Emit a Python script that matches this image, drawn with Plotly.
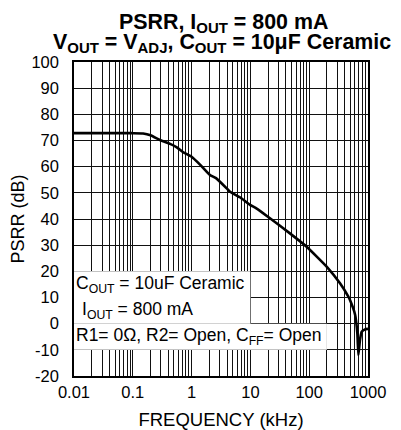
import plotly.graph_objects as go

freq_khz = [0.01, 0.05, 0.1, 0.15, 0.2, 0.29, 0.43, 0.56, 0.72, 1.0, 1.39, 2.05, 2.6, 3.95, 4.5, 6.65, 9.85,
            12.8, 21.5, 47, 90.5, 198, 334, 463, 494, 602, 659, 686, 731, 781, 889, 1000]
psrr_db = [72.8, 72.8, 72.8, 72.7, 72.0, 70.2, 68.7, 67.4, 65.5, 63.8, 60.8, 56.8, 55.6, 51.7, 50.4, 48.3, 45.4,
           44.0, 40.3, 34.5, 29.4, 21.8, 15.4, 10.3, 9.0, 3.5, -3.7, -12.0, -6.2, -3.1, -2.2, -2.0]

xtick_vals = [0.01, 0.1, 1, 10, 100, 1000]
xtick_text = ["0.01", "0.1", "1", "10", "100", "1000"]
ytick_vals = list(range(-20, 101, 10))
ytick_text = [str(v) for v in ytick_vals]

minor_vals = [d * 10.0 ** e for e in range(-2, 3) for d in range(2, 10)]

title_line1 = "<b>PSRR, I<sub>OUT</sub> = 800 mA</b>"
title_line2 = "<b>V<sub>OUT</sub> = V<sub>ADJ</sub>, C<sub>OUT</sub> = 10μF Ceramic</b>"
box_lines = ["C<sub>OUT</sub> = 10uF Ceramic", "I<sub>OUT</sub> = 800 mA",
             "R1= 0Ω, R2= Open, C<sub>FF</sub>= Open"]

font = "Liberation Sans, Arial, sans-serif"

fig = go.Figure()
fig.add_trace(go.Scatter(x=freq_khz, y=psrr_db, mode="lines",
                         line=dict(color="black", width=2.6, shape="spline", smoothing=0.4),
                         hoverinfo="skip", showlegend=False))

# white label boxes over the grid
fig.add_shape(type="rect", xref="x", yref="y", x0=0.01, x1=10, y0=0, y1=20,
              fillcolor="white", line=dict(width=0), layer="between")
fig.add_shape(type="rect", xref="x", yref="y", x0=0.01, x1=200, y0=-10, y1=0,
              fillcolor="white", line=dict(width=0), layer="between")

ann_font = dict(family=font, size=17.5, color="black")
for txt, yv, xs in zip(box_lines, [15, 5, -5], [0, 6, 0]):
    fig.add_annotation(x=0, xref="paper", y=yv, yref="y", xanchor="left", yanchor="middle",
                       text=txt, showarrow=False, font=ann_font, xshift=xs)

title_font = dict(family=font, size=21.4, color="black")
fig.add_annotation(x=0.508, xref="paper", y=1.125, yref="paper", xanchor="center", yanchor="middle",
                   text=title_line1, showarrow=False, font=title_font)
fig.add_annotation(x=0.502, xref="paper", y=1.062, yref="paper", xanchor="center", yanchor="middle",
                   text=title_line2, showarrow=False, font=title_font)

grid_col = "#111111"
# the page body adds an 8px offset, so the figure is sized/margined to compensate
fig.update_layout(
    width=393, height=422,
    margin=dict(l=66, r=33, t=54, b=54),
    paper_bgcolor="white", plot_bgcolor="white",
    font=dict(family=font, size=16, color="black"),
    xaxis=dict(type="log", range=[-2, 3], tickmode="array", tickvals=xtick_vals, ticktext=xtick_text,
               showgrid=True, gridcolor=grid_col, gridwidth=1.3, automargin=False,
               minor=dict(tickmode="array", tickvals=minor_vals, showgrid=True, gridcolor=grid_col, gridwidth=1.2),
               showline=True, linecolor="black", linewidth=1.5, mirror=True, ticks="",
               title=dict(text="FREQUENCY (kHz)", font=dict(size=18.5), standoff=16),
               tickfont=dict(size=16.5), zeroline=False),
    yaxis=dict(range=[-20, 100], tickmode="array", tickvals=ytick_vals, ticktext=ytick_text,
               showgrid=True, gridcolor=grid_col, gridwidth=1.3, automargin=False,
               showline=True, linecolor="black", linewidth=1.5, mirror=True, ticks="",
               ticklabelstandoff=10,
               title=dict(text="PSRR (dB)", font=dict(size=18), standoff=8),
               tickfont=dict(size=16.5), zeroline=False),
)

fig.write_html("out.html")
